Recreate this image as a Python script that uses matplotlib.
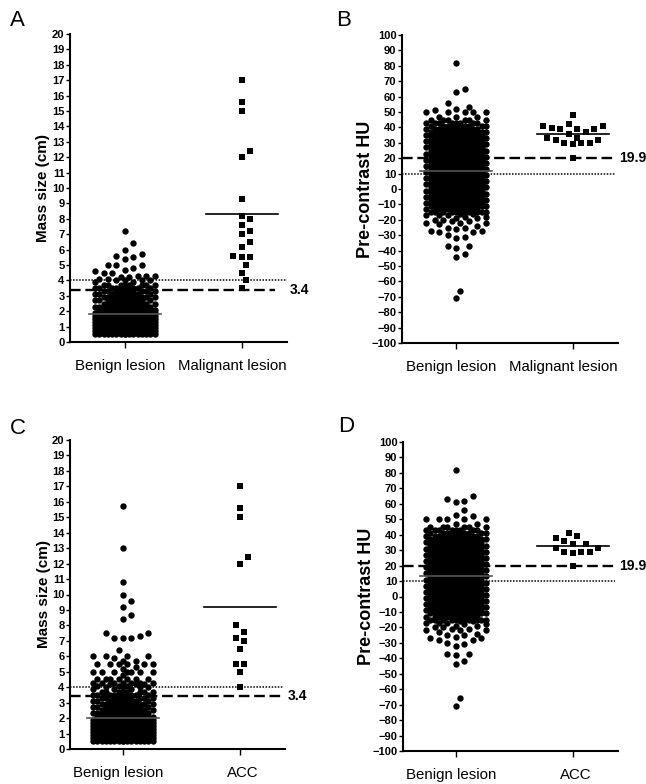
import matplotlib
matplotlib.use("Agg")
import matplotlib.pyplot as plt
import numpy as np

plt.rcParams['font.family'] = ['Liberation Sans', 'DejaVu Sans']

# ---- panel A: mass size, benign vs malignant ----
a_cats = ["Benign lesion", "Malignant lesion"]
a_benign_levels = [0.5, 0.7, 0.9, 1.1, 1.3, 1.5, 1.7, 1.9, 2.1, 2.3, 2.5, 2.7, 2.9, 3.1, 3.3, 3.5, 3.7]
a_benign_counts = [16, 18, 18, 18, 18, 18, 16, 16, 14, 14, 12, 12, 12, 10, 10, 10, 8]
a_benign_sparse = [3.9, 3.9, 4.0, 4.0, 4.0, 4.0, 4.1, 4.1, 4.2, 4.2, 4.3, 4.3, 4.3, 4.5, 4.5,
                   4.6, 4.7, 4.8, 5.0, 5.0, 5.0, 5.4, 5.5, 5.6, 5.7, 6.0, 6.4, 7.2]
a_malignant = [17.0, 15.6, 15.0, 12.4, 12.0, 9.3, 8.2, 8.0, 7.6, 7.2, 7.0, 6.5, 6.2,
               5.6, 5.5, 5.5, 5.0, 4.5, 4.0, 3.5]
a_means = [1.8, 8.3]

# ---- panel B: pre-contrast HU, benign vs malignant ----
b_cats = ["Benign lesion", "Malignant lesion"]
b_benign_levels = [-15, -13, -11, -9, -7, -5, -3, -1, 1, 3, 5, 7, 9, 11, 13, 15,
                   17, 19, 21, 23, 25, 27, 29, 31, 33, 35, 37, 39, 41, 43, 45]
b_benign_counts = [10, 12, 14, 14, 14, 14, 14, 14, 14, 14, 14, 14, 14, 14, 14, 14,
                   14, 14, 14, 14, 14, 14, 14, 14, 14, 14, 14, 12, 10, 8, 6]
b_benign_sparse = [82, 65, 63, 56, 53, 52, 51, 50, 50, 50, 50, 50, 47, 47, 47,
                   -16, -16, -17, -17, -17, -18, -18, -19, -19, -20, -20, -21, -21,
                   -22, -22, -22, -23, -24, -25, -25, -26, -27, -27, -28, -28,
                   -30, -31, -32, -37, -37, -38, -42, -44, -66, -71]
b_malignant = [48, 42, 41, 41, 39, 39, 39, 39.5, 37, 36, 33, 33, 31.5, 31.5, 30, 30, 30, 29, 20]
b_means = [12, 35.5]

# ---- panel C: mass size, benign vs ACC ----
c_cats = ["Benign lesion", "ACC"]
c_benign_levels = [0.5, 0.7, 0.9, 1.1, 1.3, 1.5, 1.7, 1.9, 2.1, 2.3, 2.5, 2.7, 2.9, 3.1, 3.3, 3.5, 3.7]
c_benign_counts = [16, 18, 18, 18, 18, 18, 16, 16, 14, 14, 12, 12, 12, 10, 10, 10, 8]
c_benign_sparse = [15.7, 13.0, 10.8, 10.0, 9.6, 9.2, 8.7, 8.4, 7.5, 7.5, 7.3, 7.2, 7.2, 7.2,
                   6.4, 6.0, 6.0, 6.0, 6.0, 5.9, 5.7, 5.7, 5.5, 5.5, 5.5, 5.5, 5.5, 5.5,
                   5.3, 5.2, 5.0, 5.0, 5.0, 5.0, 5.0, 5.0, 5.0, 4.8,
                   4.5, 4.5, 4.5, 4.5, 4.5, 4.5, 4.5, 4.3, 4.3, 4.3, 4.3, 4.3, 4.3, 4.3,
                   4.2, 4.2, 4.2, 4.1, 4.1, 4.1, 4.0, 4.0, 4.0, 4.0, 3.9, 3.9, 3.9]
c_acc = [17.0, 15.6, 15.0, 12.4, 12.0, 8.0, 7.6, 7.2, 7.0, 6.5, 5.5, 5.5, 5.0, 4.0]
c_means = [2.0, 9.2]

# ---- panel D: pre-contrast HU, benign vs ACC ----
d_cats = ["Benign lesion", "ACC"]
d_benign_levels = b_benign_levels
d_benign_counts = b_benign_counts
d_benign_sparse = [82, 65, 63, 62, 61, 56, 53, 52, 50, 50, 50, 50, 50, 47, 47,
                   -16, -16, -17, -17, -17, -18, -18, -19, -19, -20, -20, -21, -21,
                   -22, -22, -22, -23, -24, -25, -25, -26, -27, -27, -28, -28,
                   -30, -31, -32, -37, -37, -38, -42, -44, -66, -71]
d_acc = [34, 31.5, 39, 29, 36, 29, 38, 28, 41, 29, 31.5, 34, 20]
d_means = [13, 32.5]

W, H = 646, 784


def swarm(ax, x0, values, d_min=8.0, step=4.25, half=29.75):
    """greedy beeswarm in pixel space, width capped at +-half px"""
    vals = np.asarray(values, float)
    order = np.argsort(vals, kind="stable")
    ypx = ax.transData.transform(np.column_stack([np.zeros_like(vals), vals]))[:, 1]
    cands = [0.0]
    k = 1
    while k * step <= half + 1e-9:
        cands += [k * step, -k * step]
        k += 1
    cands = np.array(cands)
    offs = np.zeros(len(vals))
    px, py = [], []
    for i in order:
        j = 0
        if px:
            bx = np.array(px)
            by = np.array(py)
            near = np.abs(by - ypx[i]) < d_min
            if near.any():
                dx = cands[:, None] - bx[near][None, :]
                dy = ypx[i] - by[near]
                dist = np.sqrt(dx ** 2 + dy[None, :] ** 2).min(axis=1)
                ok = np.where(dist >= d_min)[0]
                j = ok[0] if len(ok) else int(np.argmax(dist))
        offs[i] = cands[j]
        px.append(cands[j])
        py.append(ypx[i])
    unit = ax.transData.transform((1, 0))[0] - ax.transData.transform((0, 0))[0]
    return x0 + offs / unit


def make_axes(fig, left, right, top, bottom):
    return fig.add_axes([left / W, 1 - bottom / H, (right - left) / W, (bottom - top) / H])


def panel(ax, cats, levels, counts, sparse, second, means, ylim, yticks, ylabel,
          ylabel_size, ylabel_x, dotted_y, dashed_y, dashed_txt, xlim,
          dashed_end, dotted_end, txt_x, cat_shift):
    ax.set_xlim(*xlim)
    ax.set_ylim(*ylim)
    benign = np.concatenate([np.repeat(levels, counts), sparse])
    bx = swarm(ax, 0, benign)
    mx = swarm(ax, 1, second)
    ax.scatter(bx, benign, s=21, marker="o", color="black", linewidths=0, zorder=3)
    ax.scatter(mx, second, s=18, marker="s", color="black", linewidths=0, zorder=3)

    ax.plot([xlim[0], dotted_end], [dotted_y, dotted_y], color="black", lw=1.1,
            ls=(0, (1, 1)), zorder=2)
    ax.plot([xlim[0], dashed_end], [dashed_y, dashed_y], color="black", lw=1.7,
            ls=(0, (4.5, 2)), zorder=2)
    ax.text(txt_x, dashed_y, dashed_txt, fontsize=10, fontweight="bold",
            va="center", ha="left", clip_on=False)

    ax.plot([-0.31, 0.31], [means[0], means[0]], color="#555555", lw=1.2, zorder=4)
    ax.plot([0.69, 1.31], [means[1], means[1]], color="black", lw=1.2, zorder=4)

    for s in ["top", "right"]:
        ax.spines[s].set_visible(False)
    for s in ["left", "bottom"]:
        ax.spines[s].set_linewidth(1.5)
    ax.set_yticks(yticks)
    ax.set_xticks([0, 1])
    ax.set_xticklabels([])
    ax.tick_params(axis="y", length=3, width=1, pad=1, labelsize=8)
    ax.tick_params(axis="x", length=4.5, width=1)
    for t in ax.get_yticklabels():
        t.set_fontweight("bold")
    # category names, nudged the way the original places them
    for i, (name, sh) in enumerate(zip(cats, cat_shift)):
        ax.text(i + sh, -28 / 308, name, fontsize=10.8, ha="center", va="baseline",
                transform=ax.get_xaxis_transform(), clip_on=False)
    ax.set_ylabel(ylabel, fontsize=ylabel_size, fontweight="bold")
    ax.yaxis.set_label_coords(ylabel_x, 0.5)


fig = plt.figure(figsize=(W / 100, H / 100), dpi=100)

ax_a = make_axes(fig, 70, 287, 34, 342)
panel(ax_a, a_cats, a_benign_levels, a_benign_counts, a_benign_sparse, a_malignant,
      a_means, (0, 20), range(0, 21), "Mass size (cm)", 11, -0.09, 4.0, 3.4, "3.4",
      (-0.47, 1.385), 1.282, 1.385, 1.41, (-0.043, -0.085))

ax_b = make_axes(fig, 402, 618, 35, 343)
panel(ax_b, b_cats, b_benign_levels, b_benign_counts, b_benign_sparse, b_malignant,
      b_means, (-100, 100), range(-100, 101, 10), "Pre-contrast HU", 13, -0.13,
      10, 19.9, "19.9", (-0.462, 1.385), 1.36, 1.36, 1.393, (-0.043, -0.085))

ax_c = make_axes(fig, 70, 285, 440, 749)
panel(ax_c, c_cats, c_benign_levels, c_benign_counts, c_benign_sparse, c_acc,
      c_means, (0, 20), range(0, 21), "Mass size (cm)", 11, -0.09, 4.0, 3.4, "3.4",
      (-0.453, 1.385), 1.359, 1.37, 1.41, (-0.043, 0.02))

ax_d = make_axes(fig, 403, 618, 442, 751)
panel(ax_d, d_cats, d_benign_levels, d_benign_counts, d_benign_sparse, d_acc,
      d_means, (-100, 100), range(-100, 101, 10), "Pre-contrast HU", 13, -0.13,
      10, 19.9, "19.9", (-0.453, 1.385), 1.36, 1.36, 1.393, (-0.043, 0.02))

for letter, x, y in [("A", 10, 26), ("B", 336, 26), ("C", 10, 434), ("D", 338, 432)]:
    fig.text(x / W, 1 - y / H, letter, fontsize=16, va="baseline", ha="left")

fig.savefig("out.png", dpi=100)
